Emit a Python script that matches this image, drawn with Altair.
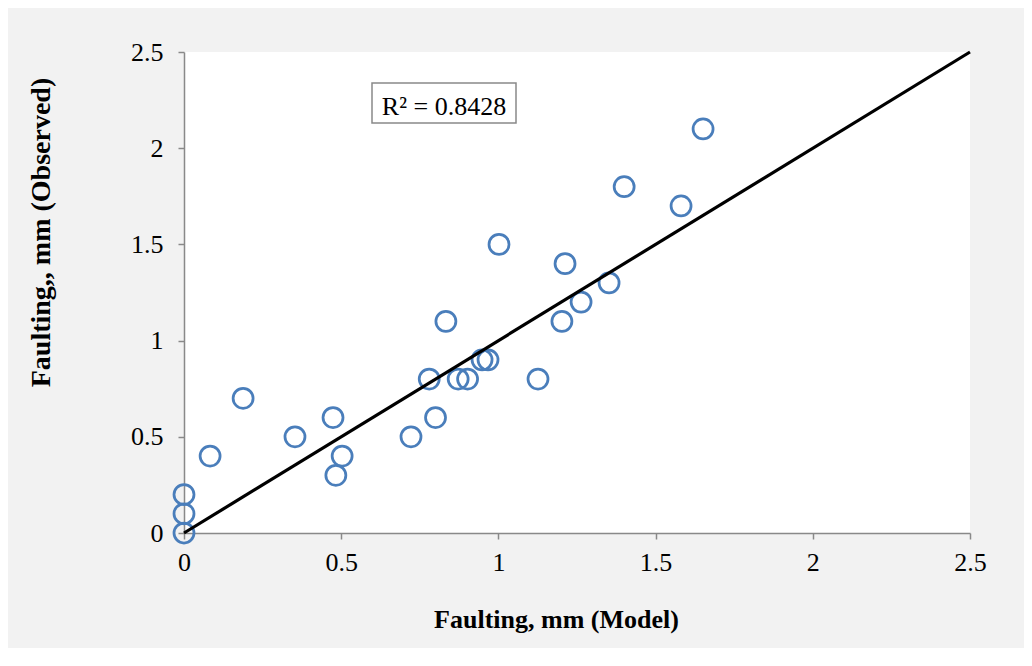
import altair as alt
import pandas as pd

# Observed vs model faulting (mm)
model_x = [0.0, 0.0, 0.0, 0.083, 0.188, 0.353, 0.474, 0.483, 0.503, 0.722,
           0.78, 0.80, 0.833, 0.872, 0.902, 0.948, 0.967, 1.002, 1.126, 1.202,
           1.212, 1.263, 1.352, 1.40, 1.581, 1.651]
observed_y = [0.0, 0.1, 0.2, 0.4, 0.7, 0.5, 0.6, 0.3, 0.4, 0.5,
              0.8, 0.6, 1.1, 0.8, 0.8, 0.9, 0.9, 1.5, 0.8, 1.1,
              1.4, 1.2, 1.3, 1.8, 1.7, 2.1]

trend_x = [0.0, 2.5]
trend_y = [0.0, 2.5]

tick_values = [0, 0.5, 1, 1.5, 2, 2.5]
r2_label = "R² = 0.8428"
x_title = "Faulting, mm (Model)"
y_title = "Faulting,, mm (Observed)"

FONT = "Liberation Serif"
BLUE = "#4a7ebb"
AXIS_GRAY = "#898989"

pts = pd.DataFrame({"x": model_x, "y": observed_y})
trend = pd.DataFrame({"x": trend_x, "y": trend_y})

xscale = alt.Scale(domain=[0, 2.5], nice=False)
yscale = alt.Scale(domain=[0, 2.5], nice=False)

xaxis = alt.Axis(values=tick_values, format="~g", grid=False, domainColor=AXIS_GRAY,
                 domainWidth=1.5, tickColor=AXIS_GRAY, tickWidth=1.5, tickSize=6,
                 labelFont=FONT, labelFontSize=26, labelColor="black", labelPadding=10,
                 title=x_title, titleFont=FONT, titleFontSize=26, titleFontWeight="bold",
                 titleColor="black", titleX=372, titleY=94, titleAlign="center",
                 titleBaseline="alphabetic", labelFlush=False, labelOverlap=False)
yaxis = alt.Axis(values=tick_values, format="~g", grid=False, domainColor=AXIS_GRAY,
                 domainWidth=1.5, tickColor=AXIS_GRAY, tickWidth=1.5, tickSize=6,
                 labelFont=FONT, labelFontSize=26, labelColor="black", labelPadding=15,
                 title=y_title, titleFont=FONT, titleFontSize=28, titleFontWeight="bold",
                 titleColor="black", titleX=-135, titleY=180, titleAlign="center",
                 titleBaseline="alphabetic", titleAngle=270, labelFlush=False,
                 labelOverlap=False)

points = alt.Chart(pts).mark_point(shape="circle", size=400, filled=False,
                                   color=BLUE, strokeWidth=2.75, opacity=1).encode(
    x=alt.X("x:Q", scale=xscale, axis=xaxis),
    y=alt.Y("y:Q", scale=yscale, axis=yaxis),
)

line = alt.Chart(trend).mark_line(color="black", strokeWidth=3.2).encode(
    x=alt.X("x:Q", scale=xscale),
    y=alt.Y("y:Q", scale=yscale),
)

box = alt.Chart(pd.DataFrame({"label": [r2_label]})).mark_rect(
    fill="white", stroke=AXIS_GRAY, strokeWidth=1.5).encode(
    x=alt.value(188), x2=alt.value(332), y=alt.value(31), y2=alt.value(71))

label = alt.Chart(pd.DataFrame({"label": [r2_label]})).mark_text(
    font=FONT, fontSize=26, color="black", align="center", baseline="alphabetic").encode(
    x=alt.value(260), y=alt.value(63), text="label:N")

chart = alt.layer(points, line, box, label).properties(
    width=786, height=481,
    background="#f2f2f2",
    padding={"left": 176, "top": 44, "right": 54, "bottom": 115},
    autosize=alt.AutoSizeParams(type="none"),
).configure_view(fill="white", stroke=None)

chart.save("out.html", embed_options={"renderer": "svg", "actions": False})
